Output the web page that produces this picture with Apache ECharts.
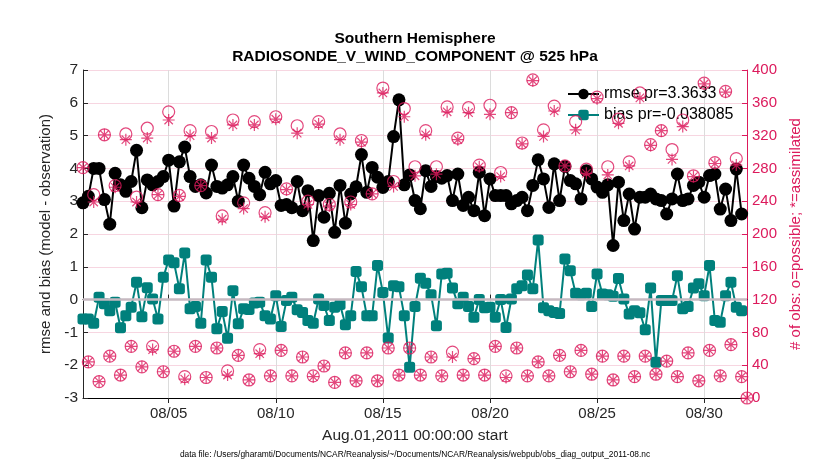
<!DOCTYPE html>
<html><head><meta charset="utf-8">
<script src="https://cdn.jsdelivr.net/npm/echarts@6/dist/echarts.min.js"></script>
<style>html,body{margin:0;padding:0;background:#fff}#c{width:830px;height:470px}</style>
</head><body><div id="c"></div>
<script>
const titleLines = ['Southern Hemisphere', 'RADIOSONDE_V_WIND_COMPONENT @ 525 hPa'];
const xName = 'Aug.01,2011 00:00:00 start';
const leftName = 'rmse and bias (model - observation)';
const rightName = '# of obs: o=possible; *=assimilated';
const footnote = 'data file: /Users/gharamti/Documents/NCAR/Reanalysis/~/Documents/NCAR/Reanalysis/webpub/obs_diag_output_2011-08.nc';
const tickLabels = ['08/05', '08/10', '08/15', '08/20', '08/25', '08/30'];
const seriesNames = ['rmse pr=3.3633', 'bias pr=-0.038085'];

// 6-hourly time bins, Aug 01 00Z .. Sep 01 00Z (125 bins)
const startDay = 1, daysInMonth = 31, binsPerDay = 4, nBins = 125;

const rmse = [2.95,3.15,4.0,4.0,3.05,2.3,3.85,3.5,3.3,3.6,
 4.55,2.8,3.65,3.5,3.6,3.75,4.25,2.85,4.2,4.65,
 3.75,3.45,3.5,3.25,4.1,3.45,3.4,3.5,3.75,3.0,
 4.1,3.7,3.45,3.2,3.88,3.53,3.63,2.87,2.9,2.8,
 3.6,2.71,3.32,1.8,3.17,2.51,3.24,2.05,3.48,2.33,
 3.22,3.44,4.42,3.27,4.03,3.73,3.42,3.6,4.97,6.09,
 3.5,3.8,3.02,2.77,3.93,3.45,3.75,3.7,3.78,3.02,
 3.83,2.87,3.12,2.71,3.88,2.56,3.68,3.17,3.17,3.17,
 2.92,3.02,3.12,2.71,3.48,4.26,3.68,2.81,4.14,3.02,
 4.06,3.63,3.53,3.07,3.93,3.68,3.43,3.27,3.5,1.65,
 3.58,2.41,3.22,2.15,3.12,3.12,3.22,3.07,3.02,2.61,
 3.07,3.83,3.02,3.07,3.48,3.58,3.12,3.78,3.83,2.76,
 3.37,2.41,3.98,2.61];

const bias = [-0.59,-0.59,-0.72,0.07,-0.13,-0.34,-0.08,-0.86,-0.49,-0.23,
 0.53,-0.52,0.36,0.02,-0.59,0.68,1.21,1.12,0.33,1.42,
 -0.28,-0.21,-0.72,1.21,0.68,-0.89,-0.36,-1.18,0.27,-0.74,
 -0.28,-0.3,-0.1,-0.08,-0.49,-0.59,0.12,-0.82,-0.03,0.07,
 -0.31,-0.39,-0.64,-0.72,0.02,-0.18,-0.64,-0.23,-0.15,-0.77,
 -0.49,0.86,0.39,-0.49,-0.49,1.04,0.22,-1.17,0.42,0.39,
 -0.49,-2.06,-0.21,0.65,0.5,0.15,-0.8,0.78,0.8,0.35,
 -0.13,0.07,-0.21,-0.54,0.0,-0.25,-0.23,-0.54,0.0,-0.85,
 0.02,0.33,0.42,0.75,0.33,1.82,-0.25,-0.34,-0.39,-0.42,
 1.24,0.88,0.19,0.15,0.19,-0.21,0.78,0.17,0.15,0.1,
 0.64,0.02,-0.44,-0.34,-0.4,-0.92,0.35,-1.91,-0.03,-0.03,
 -0.03,0.73,-0.28,-0.21,0.35,0.48,0.12,1.04,-0.64,-0.69,
 0.12,0.53,-0.23,-0.34];

const possible = [281,44,248,20,321,51,259,28,322,63,
 245,38,329,63,248,32,349,57,247,26,
 326,63,259,25,325,61,222,33,339,52,
 238,22,337,59,226,27,343,58,255,27,
 332,50,240,27,337,39,236,19,322,55,
 239,21,314,55,249,21,378,61,264,28,
 353,61,282,28,326,50,282,27,355,56,
 317,28,354,48,284,28,357,63,275,27,
 348,61,311,27,388,44,327,27,356,52,
 283,32,337,58,279,29,367,51,282,22,
 340,51,288,26,372,51,309,29,326,45,
 303,26,339,55,271,21,384,58,287,27,
 374,65,292,26,0];

const assimilated = [281,44,239,20,321,51,257,28,315,63,
 239,38,317,59,248,32,339,57,246,23,
 320,63,259,25,317,61,218,28,333,52,
 231,22,333,54,221,27,340,58,254,27,
 323,50,236,26,334,39,234,19,315,55,
 236,21,312,55,249,21,372,61,258,28,
 343,61,271,28,321,50,273,27,349,50,
 315,28,348,48,282,28,346,63,270,25,
 348,61,310,27,387,44,319,27,350,52,
 283,32,327,58,274,29,365,51,272,22,
 335,51,283,26,366,51,308,29,326,45,
 291,26,331,55,270,21,383,58,286,27,
 373,65,284,26,0];

const pad = n => (n < 10 ? '0' : '') + n;
const categories = [];
for (let i = 0; i < nBins; i++) {
  let d = startDay + Math.floor(i / binsPerDay);
  const h = (i % binsPerDay) * 24 / binsPerDay;
  const mm = d > daysInMonth ? '09' : '08';
  if (d > daysInMonth) d -= daysInMonth;
  categories.push(mm + '/' + pad(d) + ' ' + pad(h));
}
const isTick = (idx, val) => val.slice(6) === '00' && tickLabels.indexOf(val.slice(0, 5)) >= 0;

const FONT = 'Liberation Sans, Arial, Helvetica, sans-serif';
const CRIM = '#dc1a5c';
const TEAL = '#00807c';
const asterisk = 'path://M0,5L10,5M5,0L5,10M1.5,1.5L8.5,8.5M8.5,1.5L1.5,8.5';

const chart = echarts.init(document.getElementById('c'), null, {renderer: 'canvas'});
chart.setOption({
  backgroundColor: '#fff',
  animation: false,
  textStyle: {fontFamily: FONT},
  title: {
    text: titleLines.join('\n'), left: 'center', top: 25,
    textStyle: {fontSize: 15.5, fontWeight: 'bold', lineHeight: 18, color: '#000', fontFamily: FONT}
  },
  grid: {left: 83, right: 83, top: 70, bottom: 72, containLabel: false},
  legend: {
    data: seriesNames, left: 562, top: 81, orient: 'vertical',
    itemWidth: 31, itemHeight: 13, itemGap: 5,
    textStyle: {fontSize: 16, color: '#000', fontFamily: FONT}
  },
  xAxis: [{
    type: 'category', data: categories, boundaryGap: false, position: 'bottom',
    axisLine: {lineStyle: {color: '#000', width: 1}},
    axisTick: {inside: true, length: 5, interval: isTick, lineStyle: {color: '#262626'}},
    axisLabel: {interval: isTick, formatter: v => v.slice(0, 5), fontSize: 15, color: '#262626', margin: 8, fontFamily: FONT},
    splitLine: {show: true, interval: isTick, lineStyle: {color: '#dcdcdc', width: 1}},
    name: xName, nameLocation: 'middle', nameGap: 30,
    nameTextStyle: {fontSize: 15.5, color: '#262626', fontFamily: FONT}
  }, {
    type: 'category', data: categories, boundaryGap: false, position: 'top',
    axisLine: {lineStyle: {color: '#000', width: 1}},
    axisTick: {inside: true, length: 5, interval: isTick, lineStyle: {color: '#262626'}},
    axisLabel: {show: false}, splitLine: {show: false}
  }],
  yAxis: [{
    type: 'value', min: -3, max: 7, interval: 1, position: 'left',
    axisLine: {show: true, lineStyle: {color: '#262626', width: 1}},
    axisTick: {show: true, inside: true, length: 5, lineStyle: {color: '#262626'}},
    axisLabel: {fontSize: 15.5, color: '#262626', margin: 5, fontFamily: FONT},
    splitLine: {show: false},
    name: leftName, nameLocation: 'middle', nameRotate: 90, nameGap: 22,
    nameTextStyle: {fontSize: 15, color: '#262626', fontFamily: FONT}
  }, {
    type: 'value', min: 0, max: 400, interval: 40, position: 'right',
    axisLine: {show: true, lineStyle: {color: CRIM, width: 1}},
    axisTick: {show: true, inside: true, length: 5, lineStyle: {color: CRIM}},
    axisLabel: {fontSize: 15, color: CRIM, margin: 5, fontFamily: FONT},
    splitLine: {show: true, lineStyle: {color: '#f7d6e1', width: 1}},
    name: rightName, nameLocation: 'middle', nameRotate: 90, nameGap: 33,
    nameTextStyle: {fontSize: 15, color: CRIM, fontFamily: FONT}
  }],
  graphic: [{
    type: 'text', left: 'center', top: 451,
    style: {text: footnote, fontSize: 8.4, fill: '#000', fontFamily: FONT}
  }],
  series: [{
    name: seriesNames[0], type: 'line', data: rmse, xAxisIndex: 0, yAxisIndex: 0,
    symbol: 'circle', symbolSize: 13, showAllSymbol: true,
    lineStyle: {color: '#000', width: 2}, itemStyle: {color: '#000'}, z: 2
  }, {
    name: seriesNames[1], type: 'line', data: bias, xAxisIndex: 0, yAxisIndex: 0,
    symbol: 'roundRect', symbolSize: 11, showAllSymbol: true,
    lineStyle: {color: TEAL, width: 2}, itemStyle: {color: TEAL}, z: 2,
    markLine: {
      silent: true, symbol: 'none', label: {show: false},
      lineStyle: {color: '#c6b9c0', width: 2.5, type: 'solid'},
      data: [{yAxis: 0}]
    }
  }, {
    name: 'possible', type: 'scatter', data: possible, xAxisIndex: 0, yAxisIndex: 1,
    symbol: 'circle', symbolSize: 12,
    itemStyle: {color: 'rgba(0,0,0,0)', borderColor: CRIM, borderWidth: 1.2}, z: 4
  }, {
    name: 'assimilated', type: 'scatter', data: assimilated, xAxisIndex: 0, yAxisIndex: 1,
    symbol: asterisk, symbolSize: 12,
    itemStyle: {color: 'rgba(0,0,0,0)', borderColor: CRIM, borderWidth: 1.2}, z: 4
  }]
});
</script>
</body></html>
